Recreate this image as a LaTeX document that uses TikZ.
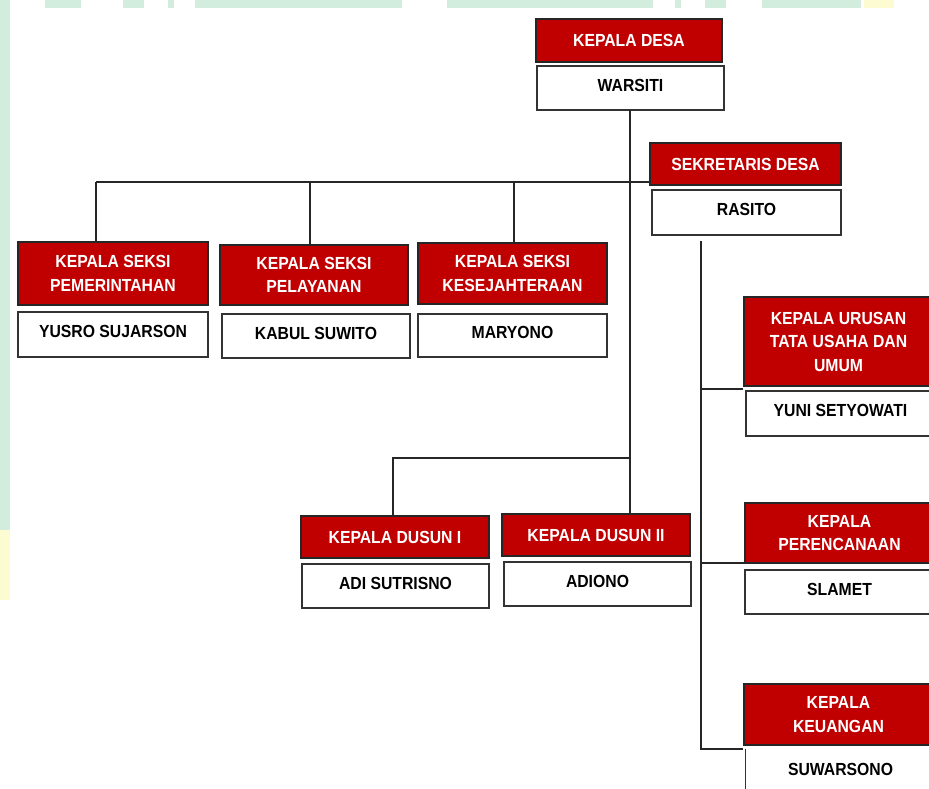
\documentclass[tikz,border=0pt]{standalone}
\usepackage{fontspec}
\setmainfont{Liberation Sans}[FakeStretch=0.9]
\definecolor{boxred}{HTML}{C00000}
\definecolor{wmgreen}{HTML}{D2ECDE}
\definecolor{wmyellow}{HTML}{FDFBD2}
\tikzset{
  redbox/.style={draw=black!85, line width=1.2pt, fill=boxred, text=white, font=\fontsize{17.5}{23.5}\selectfont\bfseries, align=center, inner sep=0pt},
  namebox/.style={draw=black!80, line width=1.4pt, fill=white, text=black, font=\fontsize{17.5}{23.5}\selectfont\bfseries, align=center, inner sep=0pt, text height=12.5pt, text depth=6pt},
  link/.style={draw=black!85, line width=1.3pt}
}
\begin{document}
\begin{tikzpicture}[x=1pt,y=-1pt]
\useasboundingbox (0,0) rectangle (929,788);
\fill[white] (0,0) rectangle (929,788);
% faint watermark bands
\fill[wmgreen] (0,0) rectangle (10,530);
\fill[wmyellow] (0,530) rectangle (10,600);
\foreach \a/\b in {45/81,123/144,168/174,195/402,447/653,675/681,705/726,762/861}{
  \fill[wmgreen] (\a,0) rectangle (\b,8);}
\fill[wmyellow] (864,0) rectangle (894,8);

% nodes
\node[redbox, minimum width=186, minimum height=43] (kd) at (629,40.5) {KEPALA DESA};
\node[namebox, minimum width=187, minimum height=44] (war) at (630.5,88) {WARSITI};
\node[redbox, minimum width=191, minimum height=42] (sek) at (745.5,164) {SEKRETARIS DESA};
\node[namebox, minimum width=189, minimum height=45] (ras) at (746.5,212.5) {RASITO};

\node[redbox, minimum width=190, minimum height=63] (pem) at (113,273.5) {KEPALA SEKSI\\PEMERINTAHAN};
\node[namebox, minimum width=190, minimum height=45] (yus) at (113,334.5) {YUSRO SUJARSON};
\node[redbox, minimum width=188, minimum height=60] (pel) at (314,275) {KEPALA SEKSI\\PELAYANAN};
\node[namebox, minimum width=188, minimum height=44] (kab) at (316,336) {KABUL SUWITO};
\node[redbox, minimum width=189, minimum height=61] (kes) at (512.5,273.5) {KEPALA SEKSI\\KESEJAHTERAAN};
\node[namebox, minimum width=189, minimum height=43] (mar) at (512.5,335.5) {MARYONO};

\node[redbox, minimum width=189, minimum height=89] (uru) at (838.5,341.5) {KEPALA URUSAN\\TATA USAHA DAN\\UMUM};
\node[namebox, minimum width=189, minimum height=45] (yun) at (840.5,413.5) {YUNI SETYOWATI};
\node[redbox, minimum width=189, minimum height=60] (per) at (839.5,533) {KEPALA\\PERENCANAAN};
\node[namebox, minimum width=189, minimum height=44] (sla) at (839.5,592) {SLAMET};
\node[redbox, minimum width=189, minimum height=61] (keu) at (838.5,714.5) {KEPALA\\KEUANGAN};
\node[namebox, draw=none, fill=none, minimum width=189, minimum height=45] (suw) at (840.5,772.5) {SUWARSONO};
\draw[draw=black!80, line width=1.4pt] (suw.north west) -- (suw.south west);

\node[redbox, minimum width=188, minimum height=42] (du1) at (395,537) {KEPALA DUSUN I};
\node[namebox, minimum width=187, minimum height=44] (adi) at (395.5,586) {ADI SUTRISNO};
\node[redbox, minimum width=188, minimum height=42] (du2) at (596,535) {KEPALA DUSUN II};
\node[namebox, minimum width=187, minimum height=44] (ado) at (597.5,584) {ADIONO};

% connectors
\coordinate (trunk) at (630,110);
\draw[link] (trunk) -- (trunk |- du2.north);
\coordinate (hl) at (96,182);
\draw[link] (hl) -- (sek.west |- hl);
\draw[link] (hl) -- (hl |- pem.north);
\coordinate (hp) at (310,182);
\draw[link] (hp) -- (hp |- pel.north);
\coordinate (hk) at (514,182);
\draw[link] (hk) -- (hk |- kes.north);
\coordinate (hd) at (630,458);
\coordinate (hd1) at (393,458);
\draw[link] (hd) -- (hd1) -- (hd1 |- du1.north);

\coordinate (st) at (701,241);
\coordinate (sb) at (701,749);
\draw[link] (st) -- (sb) -- (keu.west |- sb);
\coordinate (s1) at (701,389);
\draw[link] (s1) -- (uru.west |- s1);
\coordinate (s2) at (701,563);
\draw[link] (s2) -- (per.west |- s2);
\end{tikzpicture}
\end{document}
